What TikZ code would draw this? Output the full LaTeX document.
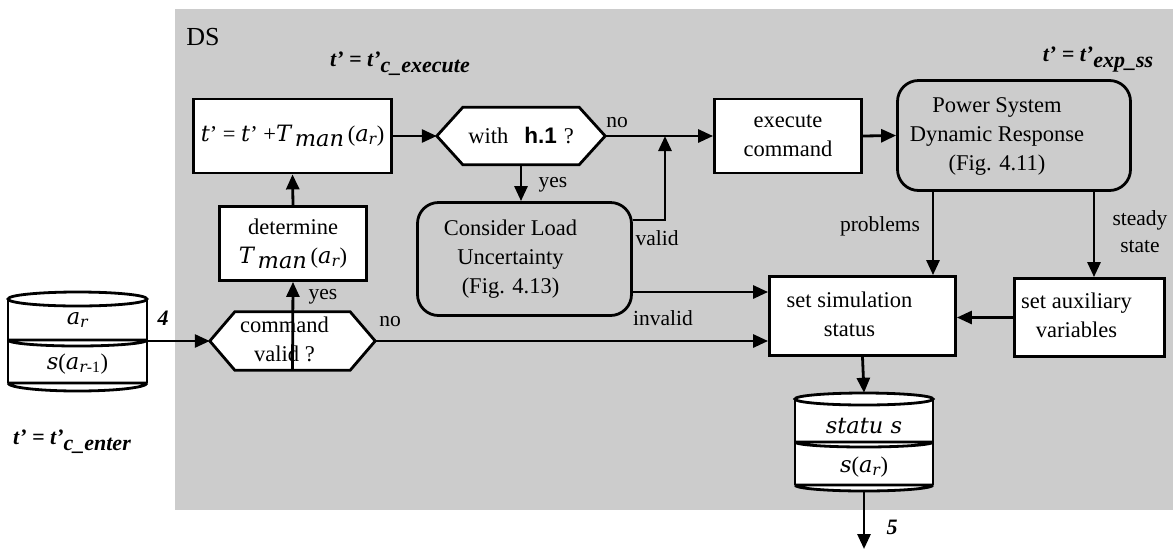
\documentclass[tikz,border=0pt]{standalone}
\usepackage{fontspec}
\setmainfont{Liberation Serif}
\newfontfamily\hfont{Liberation Sans}
\newfontfamily\cmath{DejaVu Serif}
\usetikzlibrary{arrows.meta,calc,backgrounds}
\definecolor{panel}{HTML}{CCCCCC}
% italic symbols used inside the boxes
\newcommand\vi[1]{{\cmath\itshape #1}}
\newcommand\ar{\vi{a}\textsubscript{\vi{r}}}
\newcommand\Tman{\vi{T}\,\raisebox{-5pt}{\vi{man}}}
% centred text block nudged to the left by half of #1
\newcommand\lblock[2]{\begin{tabular}{@{}c@{}}#2\end{tabular}\hspace*{#1}}
% hexagonal decision outline around an (invisible) rectangular node
\newcommand\hexframe[2]{\draw[hexline] (#1.west) -- ($(#1.north west)+(#2,0)$) -- ($(#1.north east)+(-#2,0)$) -- (#1.east) -- ($(#1.south east)+(-#2,0)$) -- ($(#1.south west)+(#2,0)$) -- cycle;}
\tikzset{
  txt/.style={font=\fontsize{22.5}{29}\selectfont},
  box/.style={txt, draw, line width=2.8pt, fill=white, inner sep=0pt, align=center},
  rbox/.style={txt, draw, line width=2.8pt, rounded corners=21pt, inner sep=0pt, align=center},
  hexnode/.style={txt, inner sep=0pt, align=center},
  hexline/.style={draw, line width=2.8pt, fill=white, line join=miter},
  link/.style={line width=2.8pt},
  arr/.style={link, -{Triangle[length=15pt,width=13pt]}},
  lbl/.style={font=\fontsize{21.5}{27}\selectfont, inner sep=0pt, align=center},
  tlbl/.style={font=\fontsize{22}{26}\selectfont\bfseries\itshape, inner sep=0pt},
  drum/.style={inner sep=0pt},
}
\begin{document}
\begin{tikzpicture}[x=1pt,y=-1pt]
\useasboundingbox (0,0) rectangle (1173,550);

% process boxes
\node[box, minimum width=198pt, minimum height=74pt] (tbox) at (292.5,136) {\vi{t}’ = \vi{t}’ +\Tman\,(\ar)};
\node[box, minimum width=147pt, minimum height=74pt] (det) at (293,243.5) {determine\\ \Tman\,(\ar)};
\node[hexnode, minimum width=165pt, minimum height=58pt] (valid) at (292.5,341) {\lblock{16pt}{command\\valid ?}};
\node[hexnode, minimum width=168pt, minimum height=57pt] (with) at (521,136) {with\hspace{16pt}{\hfont\bfseries h.1}\hspace{7pt}?};
\node[rbox, minimum width=214pt, minimum height=113pt] (cons) at (524.5,259) {\lblock{28pt}{Consider Load\\Uncertainty\\(Fig. 4.13)}};
\node[box, minimum width=147pt, minimum height=74pt] (exec) at (788,136) {execute\\command};
\node[rbox, minimum width=233pt, minimum height=110pt] (psdr) at (1014,135.5) {\lblock{34pt}{Power System\\Dynamic Response\\(Fig. 4.11)}};
\node[box, minimum width=186pt, minimum height=79pt] (setsim) at (862.5,316) {\lblock{26pt}{set simulation\\status}};
\node[box, minimum width=150pt, minimum height=78pt] (aux) at (1089.5,317.5) {\lblock{26pt}{set auxiliary\\variables}};

% data stores
\node[drum, minimum width=139pt, minimum height=100pt] (store) at (77.5,341) {};
\node[drum, minimum width=138pt, minimum height=98pt] (status) at (864,442) {};

\begin{scope}[on background layer]
  \fill[panel] (175,9) rectangle (1173,510);
  \hexframe{valid}{25}
  \hexframe{with}{26}
\end{scope}

% left store
\fill[white] (8,299) rectangle (147,383);
\fill[white] (8,383) arc[start angle=180,end angle=360,x radius=69.5pt,y radius=8pt] -- cycle;
\draw[link] (8,299) -- (8,383) (147,299) -- (147,383);
\filldraw[link, fill=white] (77.5,299) ellipse[x radius=69.5pt, y radius=7pt];
\draw[link] (8,340) -- (147,340) (8,340) arc[start angle=180,end angle=360,x radius=69.5pt,y radius=6pt];
\draw[link] (8,383) -- (147,383) (8,383) arc[start angle=180,end angle=360,x radius=69.5pt,y radius=8pt];
\node[txt] at (77.5,320) {\ar};
\node[txt] at (77.5,364) {\vi{s}(\vi{a}\textsubscript{\vi{r}-1})};

% status store
\fill[white] (795,399) rectangle (933,485);
\fill[white] (795,485) arc[start angle=180,end angle=360,x radius=69pt,y radius=6pt] -- cycle;
\draw[link] (795,399) -- (795,485) (933,399) -- (933,485);
\filldraw[link, fill=white] (864,399) ellipse[x radius=69pt, y radius=6pt];
\draw[link] (795,442) -- (933,442) (795,442) arc[start angle=180,end angle=360,x radius=69pt,y radius=5pt];
\draw[link] (795,485) -- (933,485) (795,485) arc[start angle=180,end angle=360,x radius=69pt,y radius=6pt];
\node[txt] at (864,426) {\vi{statu s}};
\node[txt] at (864,467) {\vi{s}(\ar)};

% connectors
\coordinate (vj) at (665,220);
\coordinate (jn) at (665,136);
\coordinate (px) at (933,0);
\coordinate (sx) at (1094,0);
\coordinate (iv) at (0,292);
\coordinate (out) at (864,549);
\draw[arr] (store.east) -- (valid.west);
\draw[arr] (valid.south) -- (det.south);
\draw[arr] (det.north) -- (tbox.south);
\draw[arr] (tbox.east) -- (with.west);
\draw[arr] (with.south) -- (with.south |- cons.north);
\draw[arr] (with.east) -- (exec.west);
\draw[arr] (cons.east |- vj) -- (vj) -- (jn);
\draw[arr] (exec.east) -- (psdr.west);
\draw[arr] (psdr.south -| px) -- (setsim.north -| px);
\draw[arr] (psdr.south -| sx) -- (aux.north -| sx);
\draw[arr] (aux.west) -- (aux.west -| setsim.east);
\draw[arr] (cons.east |- iv) -- (setsim.west |- iv);
\draw[arr] (valid.east) -- (valid.east -| setsim.west);
\draw[arr] (setsim.south) -- (status.north);
\draw[arr] (status.south) -- (out);

% labels
\node[tlbl] at (163,318) {4};
\node[lbl] at (323,297) {yes};
\node[lbl] at (390,322) {no};
\node[lbl] at (553,185) {yes};
\node[lbl] at (617,123) {no};
\node[lbl] at (657,238) {valid};
\node[lbl] at (663,318) {invalid};
\node[lbl] at (880,226) {problems};
\node[lbl] at (1140,232) {steady\\state};
\node[tlbl] at (892,527) {5};
\node[font=\fontsize{26}{30}\selectfont, inner sep=0pt] at (203,37) {DS};
\node[tlbl] at (400,64) {t’ = t’\raisebox{-6pt}{c\_execute}};
\node[tlbl] at (1098,60) {t’ = t’\raisebox{-6pt}{exp\_ss}};
\node[tlbl] at (72,442) {t’ = t’\raisebox{-6pt}{c\_enter}};
\end{tikzpicture}
\end{document}
